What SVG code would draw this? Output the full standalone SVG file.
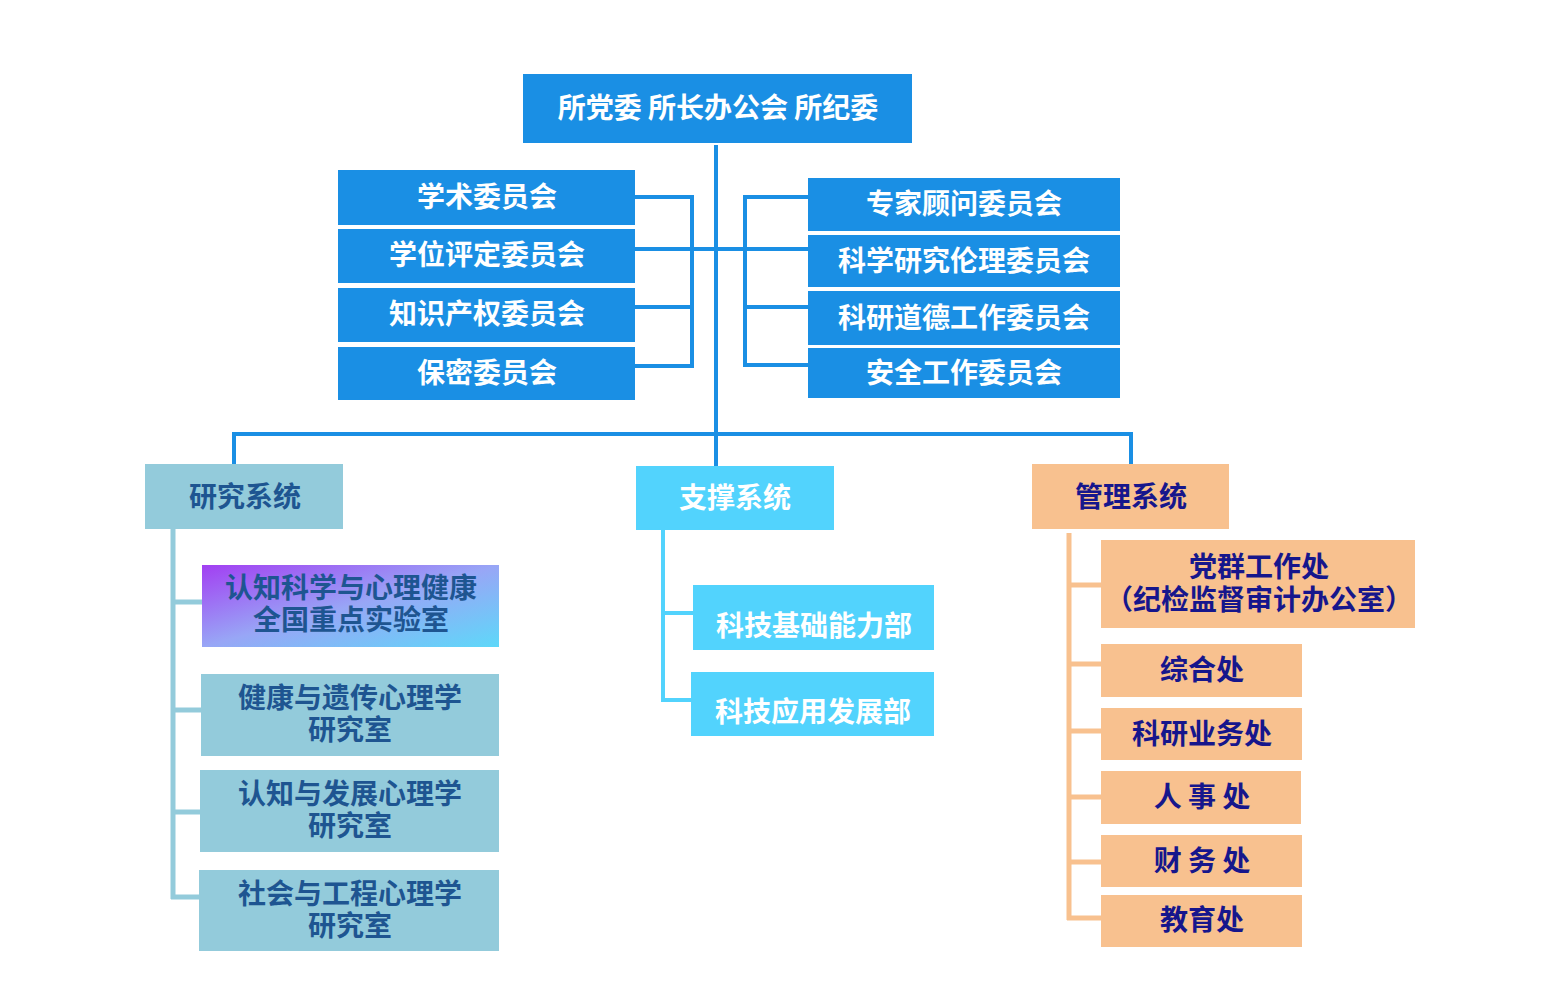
<svg xmlns="http://www.w3.org/2000/svg" width="1560" height="993" viewBox="0 0 1560 993">
<defs>
<linearGradient id="lab" x1="0" y1="0" x2="1" y2="1">
<stop offset="0" stop-color="#a23ff2"/>
<stop offset="0.5" stop-color="#98a6f6"/>
<stop offset="1" stop-color="#5ed8f9"/>
</linearGradient>
<style>
text{font-family:"Noto Sans CJK SC","Noto Sans",sans-serif;font-weight:bold;font-size:28px;text-anchor:middle}
.blue{fill:#1a8fe4}
.w{fill:#ffffff}
.res{fill:#93cbdb}
.rt{fill:#1e5591}
.sup{fill:#52d3fd}
.mgt{fill:#f8c18f}
.mt{fill:#16168c}
.cb{stroke:#1a8fe4;stroke-width:4;fill:none}
.cr{stroke:#93cbdb;stroke-width:5;fill:none}
.cs{stroke:#52d3fd;stroke-width:4;fill:none}
.cm{stroke:#f8c18f;stroke-width:5;fill:none}
</style>
</defs>
<rect width="1560" height="993" fill="#ffffff"/>
<g id="connectors">
<path class="cb" d="M716 145V466"/>
<path class="cb" d="M232 434H1133M234 432V464M1131 432V464"/>
<path class="cb" d="M635 197H692M635 307H692M635 366H692M692 195V368M635 249H808"/>
<path class="cb" d="M808 197H745M808 307H745M808 365H745M745 195V367"/>
<path class="cr" d="M173 529V899M171 602H202M171 710H201M171 812H200M171 897H199"/>
<path class="cs" d="M663 530V702M661 613H693M661 700H691"/>
<path class="cm" d="M1069 533V920M1067 585H1101M1067 664H1101M1067 731H1101M1067 797H1101M1067 862H1101M1067 918H1101"/>
</g>
<g id="top"><rect class="blue" x="523" y="74" width="389" height="69"/><text class="w" x="718" y="118">所党委 所长办公会 所纪委</text></g>
<g id="xsw"><rect class="blue" x="338" y="170" width="297" height="55"/><text class="w" x="487" y="207">学术委员会</text></g>
<g id="xwpd"><rect class="blue" x="338" y="229" width="297" height="54"/><text class="w" x="487" y="265">学位评定委员会</text></g>
<g id="zscq"><rect class="blue" x="338" y="288" width="297" height="54"/><text class="w" x="487" y="324">知识产权委员会</text></g>
<g id="bm"><rect class="blue" x="338" y="347" width="297" height="53"/><text class="w" x="487" y="383">保密委员会</text></g>
<g id="zjgw"><rect class="blue" x="808" y="178" width="312" height="53"/><text class="w" x="964" y="214">专家顾问委员会</text></g>
<g id="kxll"><rect class="blue" x="808" y="235" width="312" height="52"/><text class="w" x="964" y="271">科学研究伦理委员会</text></g>
<g id="kydd"><rect class="blue" x="808" y="291" width="312" height="54"/><text class="w" x="964" y="328">科研道德工作委员会</text></g>
<g id="aqgz"><rect class="blue" x="808" y="348" width="312" height="50"/><text class="w" x="964" y="383">安全工作委员会</text></g>
<g id="research"><rect class="res" x="145" y="464" width="198" height="65"/><text class="rt" x="245" y="507">研究系统</text></g>
<g id="support"><rect class="sup" x="636" y="466" width="198" height="64"/><text class="w" x="735" y="508">支撑系统</text></g>
<g id="management"><rect class="mgt" x="1032" y="464" width="197" height="65"/><text class="mt" x="1131" y="507">管理系统</text></g>
<g id="lab"><rect fill="url(#lab)" x="202" y="565" width="297" height="82"/><text class="rt" x="351" y="598">认知科学与心理健康</text><text class="rt" x="351" y="630">全国重点实验室</text></g>
<g id="jkyc"><rect class="res" x="201" y="674" width="298" height="82"/><text class="rt" x="350" y="708">健康与遗传心理学</text><text class="rt" x="350" y="740">研究室</text></g>
<g id="rzfz"><rect class="res" x="200" y="770" width="299" height="82"/><text class="rt" x="350" y="804">认知与发展心理学</text><text class="rt" x="350" y="836">研究室</text></g>
<g id="shgc"><rect class="res" x="199" y="870" width="300" height="81"/><text class="rt" x="350" y="904">社会与工程心理学</text><text class="rt" x="350" y="936">研究室</text></g>
<g id="kjjc"><rect class="sup" x="693" y="585" width="241" height="65"/><text class="w" x="814" y="636">科技基础能力部</text></g>
<g id="kjyy"><rect class="sup" x="691" y="672" width="243" height="64"/><text class="w" x="813" y="722">科技应用发展部</text></g>
<g id="dq"><rect class="mgt" x="1101" y="540" width="314" height="88"/><text class="mt" x="1259" y="577">党群工作处</text><text class="mt" x="1259" y="610">（纪检监督审计办公室）</text></g>
<g id="zh"><rect class="mgt" x="1101" y="644" width="201" height="53"/><text class="mt" x="1202" y="680">综合处</text></g>
<g id="kyyw"><rect class="mgt" x="1101" y="708" width="201" height="52"/><text class="mt" x="1202" y="744">科研业务处</text></g>
<g id="rs"><rect class="mgt" x="1101" y="771" width="200" height="53"/><text class="mt" x="1202" y="807">人 事 处</text></g>
<g id="cw"><rect class="mgt" x="1101" y="835" width="201" height="52"/><text class="mt" x="1202" y="871">财 务 处</text></g>
<g id="jy"><rect class="mgt" x="1101" y="895" width="201" height="52"/><text class="mt" x="1202" y="930">教育处</text></g>
</svg>
